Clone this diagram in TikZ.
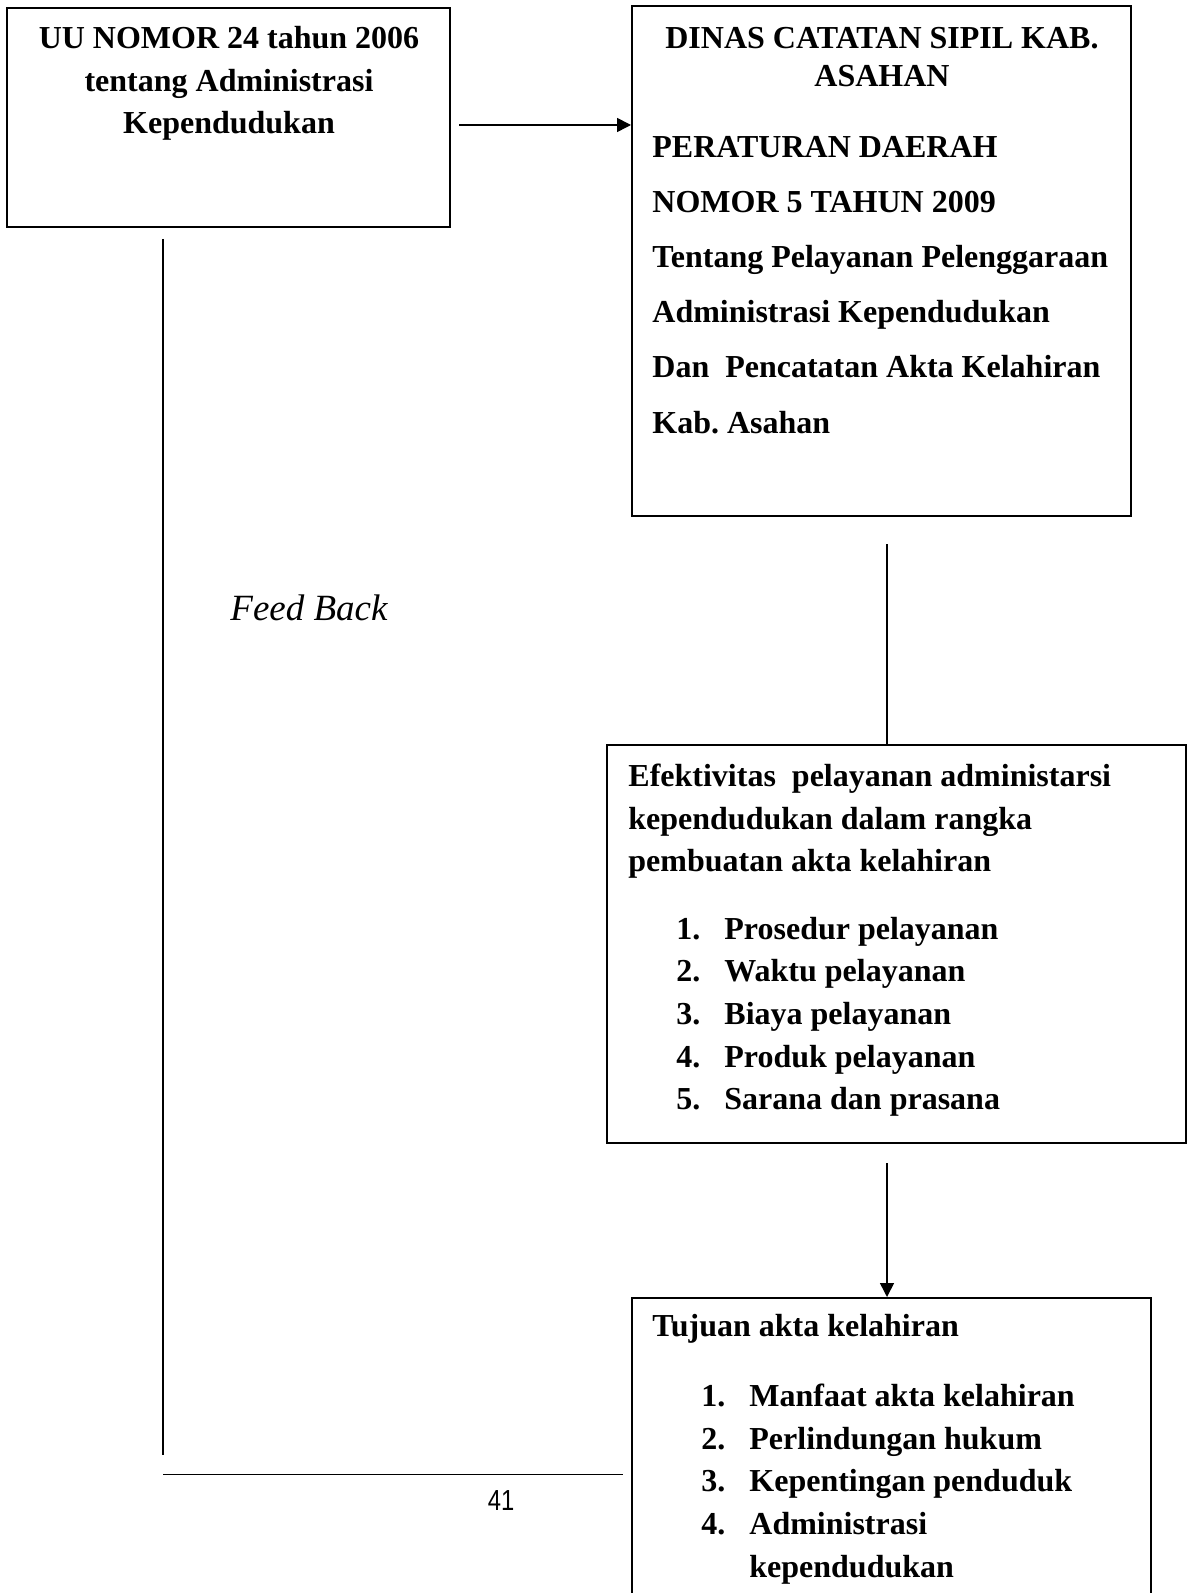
\documentclass[tikz,border=0pt]{standalone}
\usepackage{fontspec}
\setmainfont{Liberation Serif}
\newfontfamily\pagenumfont{Liberation Sans}
\usepackage{graphicx}
\usetikzlibrary{arrows.meta,fit}
\frenchspacing
\begin{document}
\begin{tikzpicture}[x=0.5pt,y=-0.5pt,
  box/.style={draw,line width=1pt,inner sep=0pt},
  txt/.style={inner sep=0pt,anchor=base west,font=\fontsize{16}{19}\selectfont\bfseries},
  ctxt/.style={txt,anchor=base},
  conn/.style={line width=0.8pt},
  arr/.style={conn,-{Triangle[length=7pt,width=7pt]}}]
\useasboundingbox (0,0) rectangle (1193,1593);
\fill[white] (0,0) rectangle (1193,1593);
\clip (0,0) rectangle (1193,1593);

% boxes
\node[box,fit={(7,8) (450,227)}] (b1) {};
\node[box,fit={(632,6) (1131,516)}] (b2) {};
\node[box,fit={(607,745) (1186,1143)}] (b3) {};
\node[box,fit={(632,1298) (1151,1660)}] (b4) {};

% box 1 text
\node[ctxt] (t11) at (229,49) {UU NOMOR 24 tahun 2006};
\node[ctxt] (t12) at (229,92) {tentang Administrasi};
\node[ctxt] (t13) at (229,134) {Kependudukan};

% box 2 text
\node[ctxt] (t21) at (882,49) {DINAS CATATAN SIPIL KAB.};
\node[ctxt] (t22) at (882,87) {ASAHAN};
\node[txt] (t23) at (652,158) {PERATURAN DAERAH};
\node[txt] (t24) at (652,213) {NOMOR 5 TAHUN 2009};
\node[txt] (t25) at (652,268) {Tentang Pelayanan Pelenggaraan};
\node[txt] (t26) at (652,323) {Administrasi Kependudukan};
\node[txt] (t27) at (652,378) {Dan\ \ Pencatatan Akta Kelahiran};
\node[txt] (t28) at (652,433) {Kab. Asahan};

% box 3 text
\node[txt] (t31) at (628,786) {Efektivitas\ \ pelayanan administarsi};
\node[txt] (t32) at (628,829) {kependudukan dalam rangka};
\node[txt] (t33) at (628,871) {pembuatan akta kelahiran};
\node[txt] (n31) at (676,939) {1.};
\node[txt] (i31) at (724,939) {Prosedur pelayanan};
\node[txt] (n32) at (676,981) {2.};
\node[txt] (i32) at (724,981) {Waktu pelayanan};
\node[txt] (n33) at (676,1024) {3.};
\node[txt] (i33) at (724,1024) {Biaya pelayanan};
\node[txt] (n34) at (676,1067) {4.};
\node[txt] (i34) at (724,1067) {Produk pelayanan};
\node[txt] (n35) at (676,1109) {5.};
\node[txt] (i35) at (724,1109) {Sarana dan prasana};

% box 4 text
\node[txt] (t41) at (652,1336) {Tujuan akta kelahiran};
\node[txt] (n41) at (701,1406) {1.};
\node[txt] (i41) at (749,1406) {Manfaat akta kelahiran};
\node[txt] (n42) at (701,1449) {2.};
\node[txt] (i42) at (749,1449) {Perlindungan hukum};
\node[txt] (n43) at (701,1491) {3.};
\node[txt] (i43) at (749,1491) {Kepentingan penduduk};
\node[txt] (n44) at (701,1534) {4.};
\node[txt] (i44) at (749,1534) {Administrasi};
\node[txt] (i45) at (749,1577) {kependudukan};

% other labels
\node[inner sep=0pt,anchor=base west,font=\fontsize{18.5}{22}\selectfont\itshape] (fb) at (230,620) {Feed Back};
\node[inner sep=0pt,anchor=base,font=\pagenumfont\fontsize{14.5}{17}\selectfont] (pg) at (501,1510) {\scalebox{0.82}[1]{41}};

% connectors
\coordinate (a1) at (459,125);
\draw[arr] (a1) -- (a1 -| b2.west);
\coordinate (c2) at (887,544);
\draw[conn] (c2) -- (c2 |- b3.north);
\coordinate (c3) at (887,1163);
\draw[arr] (c3) -- (c3 |- b4.north);
\coordinate (f1) at (163,239);
\coordinate (f2) at (163,1455);
\draw[conn] (f1) -- (f2);
\coordinate (f3) at (163,1474.5);
\coordinate (f4) at (623,1474.5);
\draw[conn] (f3) -- (f4);
\end{tikzpicture}
\end{document}
